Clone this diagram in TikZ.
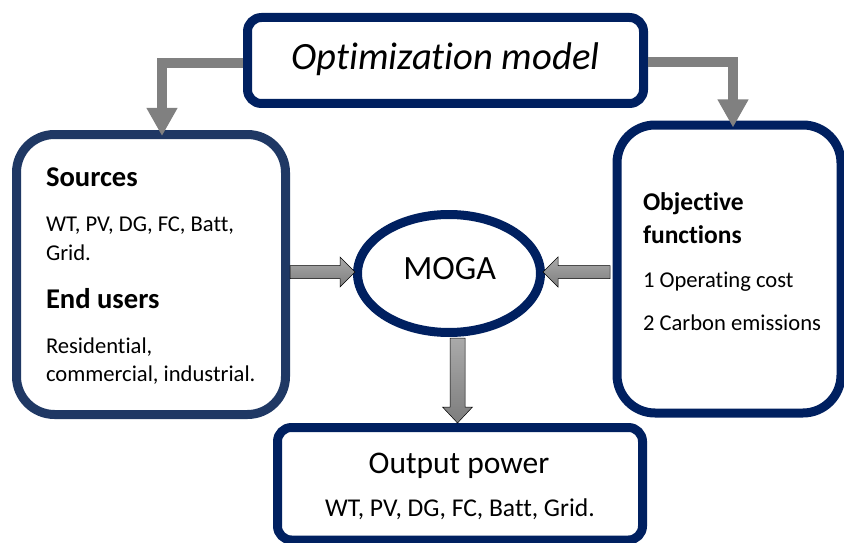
\documentclass[tikz,border=0pt]{standalone}
\usepackage{fontspec}
\setmainfont{Carlito}[Ligatures=NoCommon]
\usetikzlibrary{arrows.meta,shapes.geometric,calc}
\definecolor{navy}{RGB}{0,32,96}
\definecolor{navyl}{RGB}{31,56,100}
\definecolor{elbowgray}{RGB}{128,128,128}
\definecolor{shadetop}{RGB}{170,170,170}
\definecolor{shadebot}{RGB}{125,125,125}
\tikzset{
  box/.style={draw=navy,line width=9pt,fill=white,rectangle,inner sep=0pt,outer sep=0pt},
  elbow/.style={draw=elbowgray,line width=10pt,-{Triangle[width=29pt,length=28pt]}},
  barrow/.style={draw=black,line width=0.5pt,top color=shadetop,bottom color=shadebot},
  txt/.style={inner sep=0pt,outer sep=0pt,anchor=base west},
  ctxt/.style={inner sep=0pt,outer sep=0pt,anchor=base},
  head/.style={font=\fontsize{28.6}{32}\selectfont\bfseries},
  rhead/.style={font=\fontsize{25.5}{30}\selectfont\bfseries},
  body/.style={font=\fontsize{22.6}{26}\selectfont},
}
\begin{document}
\begin{tikzpicture}[x=1pt,y=-1pt]
\useasboundingbox (0,0) rectangle (844,543);
\fill[white] (0,0) rectangle (844,543);
% boxes
\node[box,minimum width=396pt,minimum height=86pt,rounded corners=14pt] (opt) at (445.5,60.5) {};
\node[box,draw=navyl,minimum width=269pt,minimum height=280pt,rounded corners=38pt] (src) at (151,274.5) {};
\node[box,minimum width=224pt,minimum height=288pt,rounded corners=38pt] (obj) at (729,269) {};
\node[box,minimum width=365pt,minimum height=112.5pt,rounded corners=14pt] (out) at (460,483.75) {};
\node[box,ellipse,minimum width=183pt,minimum height=118pt] (moga) at (449,273.5) {};
% texts
\node[ctxt,font=\fontsize{38.6}{42}\selectfont\itshape] (toptxt) at (445.5,69.3) {Optimization model};
\node[ctxt,font=\fontsize{34}{38}\selectfont] (mogatxt) at (449.7,279) {MOGA};
\node[ctxt,font=\fontsize{31.5}{36}\selectfont] (outtxt) at (459,473.3) {Output power};
\node[ctxt,font=\fontsize{25.6}{30}\selectfont] (outlist) at (460,516.7) {WT, PV, DG, FC, Batt, Grid.};
\node[txt,head] (srch) at (46,186) {Sources};
\node[txt,body] (src1) at (46,231) {WT, PV, DG, FC, Batt,};
\node[txt,body] (src2) at (46,260) {Grid.};
\node[txt,head] (endh) at (46,308) {End users};
\node[txt,body] (end1) at (46,353.3) {Residential,};
\node[txt,body] (end2) at (46,381.7) {commercial, industrial.};
\node[txt,rhead] (objh1) at (643,210) {Objective};
\node[txt,rhead] (objh2) at (643,243.3) {functions};
\node[txt,body] (obj1) at (643,287.3) {1 Operating cost};
\node[txt,body] (obj2) at (643,330) {2 Carbon emissions};
% elbow connectors
\draw[elbow] ($(opt.west)+(-4.5,3)$) -| ([xshift=11pt,yshift=-1.5pt]src.north);
\draw[elbow] ($(opt.east)+(4.5,1.5)$) -| ([xshift=4pt,yshift=-2.5pt]obj.north);
% block arrows
\coordinate (tipL) at ($(moga.west)+(-2.5,-1.5)$);
\coordinate (tipR) at ($(moga.east)+(2.5,-1.5)$);
\coordinate (tipD) at ($(out.north)+(-2.5,-4.5)$);
\begin{scope}[shift={(tipL)}]
\path[barrow] (0,0)--(-15,-15)--(-15,-6.5)--(-65,-6.5)--(-65,6.5)--(-15,6.5)--(-15,15)--cycle;
\end{scope}
\begin{scope}[shift={(tipR)}]
\path[barrow] (0,0)--(15,-15)--(15,-6.5)--(67,-6.5)--(67,6.5)--(15,6.5)--(15,15)--cycle;
\end{scope}
\begin{scope}[shift={(tipD)}]
\path[barrow] (0,0)--(-15,-16)--(-7.5,-16)--(-7.5,-85)--(7.5,-85)--(7.5,-16)--(15,-16)--cycle;
\end{scope}
\end{tikzpicture}
\end{document}
